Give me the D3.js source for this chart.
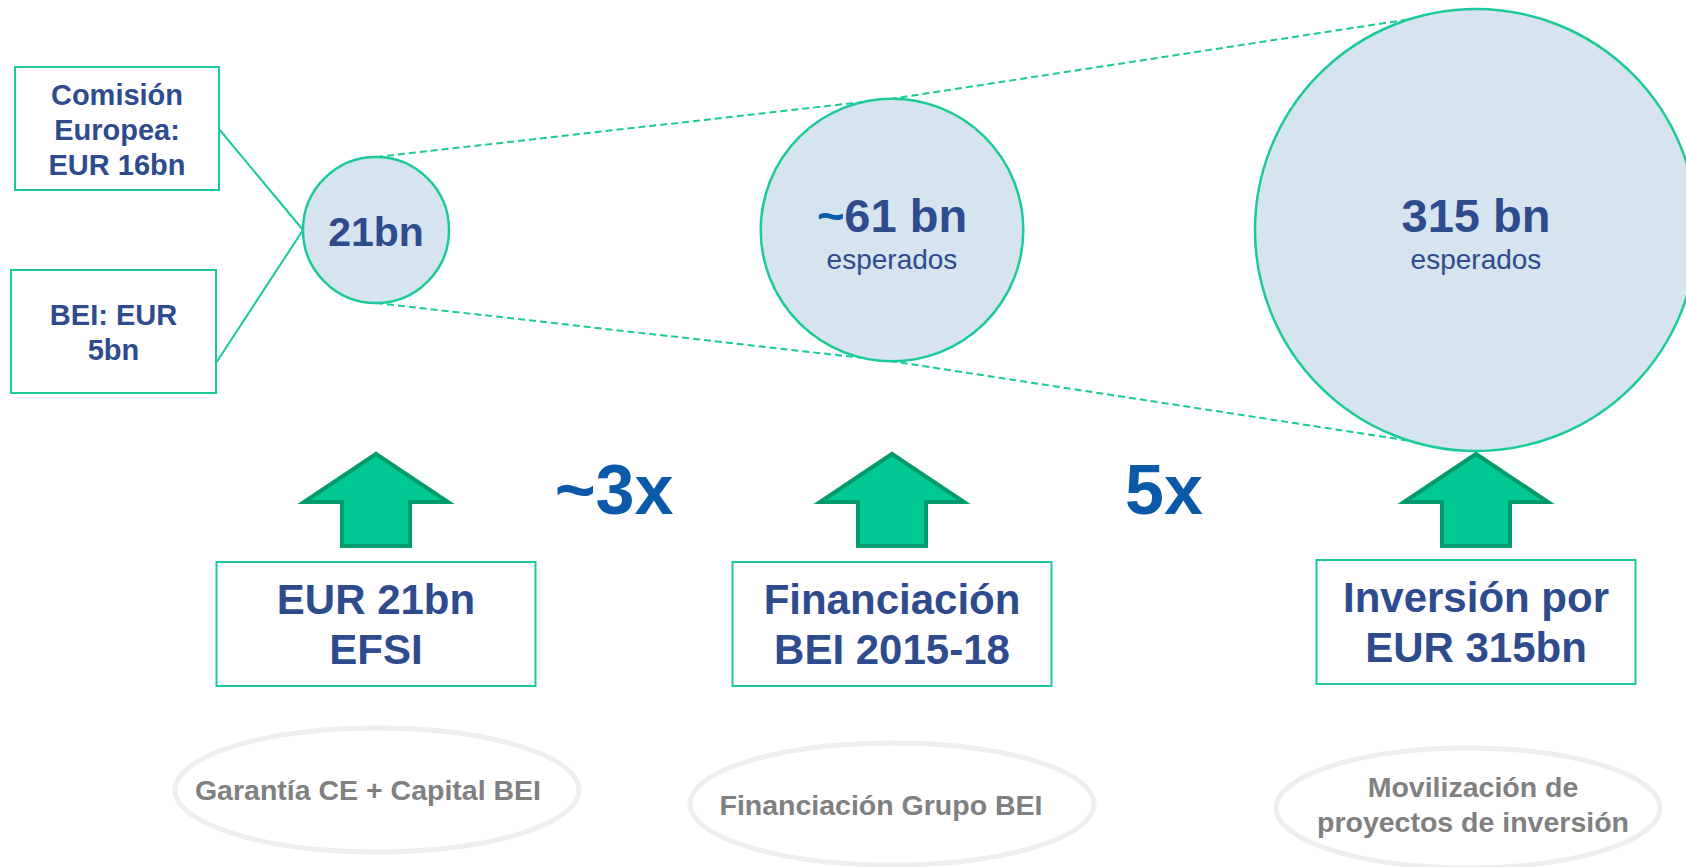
<!DOCTYPE html>
<html>
<head>
<meta charset="utf-8">
<script src="https://cdn.jsdelivr.net/npm/d3@7"></script>
<style>
  body { margin: 0; background: #ffffff; }
  svg { display: block; font-family: "Liberation Sans", Arial, sans-serif; }
</style>
</head>
<body>
<svg id="chart" width="1686" height="867"></svg>
<script>
// ---- data ----
var stages = ["EFSI", "BEI", "Inversion"];
var amounts = [21, 61, 315];
var amountPrefix = ["", "~", ""];
var amountLabels = ["21bn", "61 bn", "315 bn"];
var subLabels = ["", "esperados", "esperados"];
var boxLabels = [["EUR 21bn", "EFSI"], ["Financiación", "BEI 2015-18"], ["Inversión por", "EUR 315bn"]];
var footLabels = [["Garantía CE + Capital BEI"], ["Financiación Grupo BEI"], ["Movilización de", "proyectos de inversión"]];
var multipliers = ["~3x", "5x"];
var sourceLabels = [["Comisión", "Europea:", "EUR 16bn"], ["BEI: EUR", "5bn"]];
var sourceAmounts = [16, 5];

// colours
var navy = "#2e4b8e",
    blue = "#0b5aa9",
    green = "#1cc99a",
    arrowFill = "#00c994",
    arrowStroke = "#009a6c",
    bubbleFill = "#d6e4ef",
    grey = "#808080";

var svg = d3.select("svg#chart");

// scales: column centre per stage, radius per amount
var x = d3.scaleOrdinal().domain(stages).range([376, 892, 1476]);
var r = d3.scaleLog().domain([21, 315]).range([73, 221]);
var cy = 230;

var nodes = stages.map(function(s, i) {
  return {stage: s, value: amounts[i], cx: x(s), r: r(amounts[i]), i: i};
});

// ---- dashed envelope lines (behind bubbles) ----
var line = d3.line().x(function(d) { return d[0]; }).y(function(d) { return d[1]; });
svg.append("path")
    .attr("d", line(nodes.map(function(d) { return [d.cx, cy - d.r]; })))
    .attr("fill", "none").attr("stroke", green).attr("stroke-width", 2)
    .attr("stroke-dasharray", "7,4");
svg.append("path")
    .attr("d", line(nodes.map(function(d) { return [d.cx, cy + d.r]; })))
    .attr("fill", "none").attr("stroke", green).attr("stroke-width", 2)
    .attr("stroke-dasharray", "7,4");

// ---- source boxes on the left ----
var sourceBoxes = [{x: 15, y: 67, w: 204, h: 123, ly: 129}, {x: 11, y: 270, w: 205, h: 123, ly: 363}];
var first = nodes[0];
sourceBoxes.forEach(function(b, i) {
  svg.append("rect")
      .attr("x", b.x).attr("y", b.y).attr("width", b.w).attr("height", b.h)
      .attr("fill", "#fff").attr("stroke", green).attr("stroke-width", 2);
  svg.append("line")
      .attr("x1", b.x + b.w).attr("y1", b.ly)
      .attr("x2", first.cx - first.r).attr("y2", cy)
      .attr("stroke", green).attr("stroke-width", 2);
  var lines = sourceLabels[i];
  var lh = 35;
  var y0 = b.y + b.h / 2 - (lines.length - 1) * lh / 2 + 11;
  var t = svg.append("text")
      .attr("text-anchor", "middle")
      .attr("font-size", 29).attr("font-weight", "bold").attr("fill", navy);
  lines.forEach(function(l, j) {
    t.append("tspan").attr("x", b.x + b.w / 2).attr("y", y0 + j * lh).text(l);
  });
});

// ---- bubbles ----
var bubble = svg.selectAll("g.bubble").data(nodes).enter().append("g").attr("class", "bubble");
bubble.append("circle")
    .attr("cx", function(d) { return d.cx; })
    .attr("cy", cy)
    .attr("r", function(d) { return d.r; })
    .attr("fill", bubbleFill).attr("stroke", green).attr("stroke-width", 2.5);

var big = bubble.append("text")
    .attr("x", function(d) { return d.cx; })
    .attr("y", function(d) { return subLabels[d.i] ? cy + 2 : cy + 16; })
    .attr("text-anchor", "middle")
    .attr("font-weight", "bold")
    .attr("font-size", function(d) { return d.i === 0 ? 41 : 47; })
    .attr("fill", navy);
big.append("tspan").attr("fill", blue).text(function(d) { return amountPrefix[d.i]; });
big.append("tspan").text(function(d) { return amountLabels[d.i]; });

bubble.append("text")
    .attr("x", function(d) { return d.cx; })
    .attr("y", cy + 39)
    .attr("text-anchor", "middle")
    .attr("font-size", 28).attr("fill", navy)
    .text(function(d) { return subLabels[d.i]; });

// ---- arrows ----
var tipY = 454, headY = 502, baseY = 546, headW = 72, shaftW = 34;
svg.selectAll("path.arrow").data(nodes).enter().append("path")
    .attr("class", "arrow")
    .attr("d", function(d) {
      var c = d.cx;
      return line([[c, tipY], [c + headW, headY], [c + shaftW, headY], [c + shaftW, baseY],
                   [c - shaftW, baseY], [c - shaftW, headY], [c - headW, headY]]) + "Z";
    })
    .attr("fill", arrowFill).attr("stroke", arrowStroke).attr("stroke-width", 4)
    .attr("stroke-linejoin", "miter");

// ---- stage boxes ----
var boxW = 319, boxH = 124;
var boxY = [562, 562, 560];
nodes.forEach(function(d) {
  svg.append("rect")
      .attr("x", d.cx - boxW / 2).attr("y", boxY[d.i]).attr("width", boxW).attr("height", boxH)
      .attr("fill", "#fff").attr("stroke", green).attr("stroke-width", 2);
  var t = svg.append("text")
      .attr("text-anchor", "middle")
      .attr("font-size", 42).attr("font-weight", "bold").attr("fill", navy);
  boxLabels[d.i].forEach(function(l, j) {
    t.append("tspan").attr("x", d.cx).attr("y", boxY[d.i] + 52 + j * 50).text(l);
  });
});

// ---- multipliers between stages ----
multipliers.forEach(function(m, i) {
  var mid = (x(stages[i]) + x(stages[i + 1])) / 2 - 20;
  svg.append("text")
      .attr("x", mid).attr("y", 514)
      .attr("text-anchor", "middle")
      .attr("font-size", 70).attr("font-weight", "bold").attr("fill", blue)
      .text(m);
});

// ---- footer ellipses ----
var foot = [{cx: 377, cy: 790, rx: 202, ry: 62, tx: 368, ty: 800},
            {cx: 892, cy: 804, rx: 202, ry: 61, tx: 881, ty: 815},
            {cx: 1468, cy: 808, rx: 192, ry: 60, tx: 1473, ty: 797}];
foot.forEach(function(f, i) {
  svg.append("ellipse")
      .attr("cx", f.cx).attr("cy", f.cy).attr("rx", f.rx).attr("ry", f.ry)
      .attr("fill", "none").attr("stroke", "#eeeeee").attr("stroke-width", 5);
  var t = svg.append("text")
      .attr("text-anchor", "middle")
      .attr("font-size", 28.5).attr("font-weight", "bold").attr("fill", grey);
  footLabels[i].forEach(function(l, j) {
    t.append("tspan").attr("x", f.tx).attr("y", f.ty + j * 35).text(l);
  });
});
</script>
</body>
</html>
